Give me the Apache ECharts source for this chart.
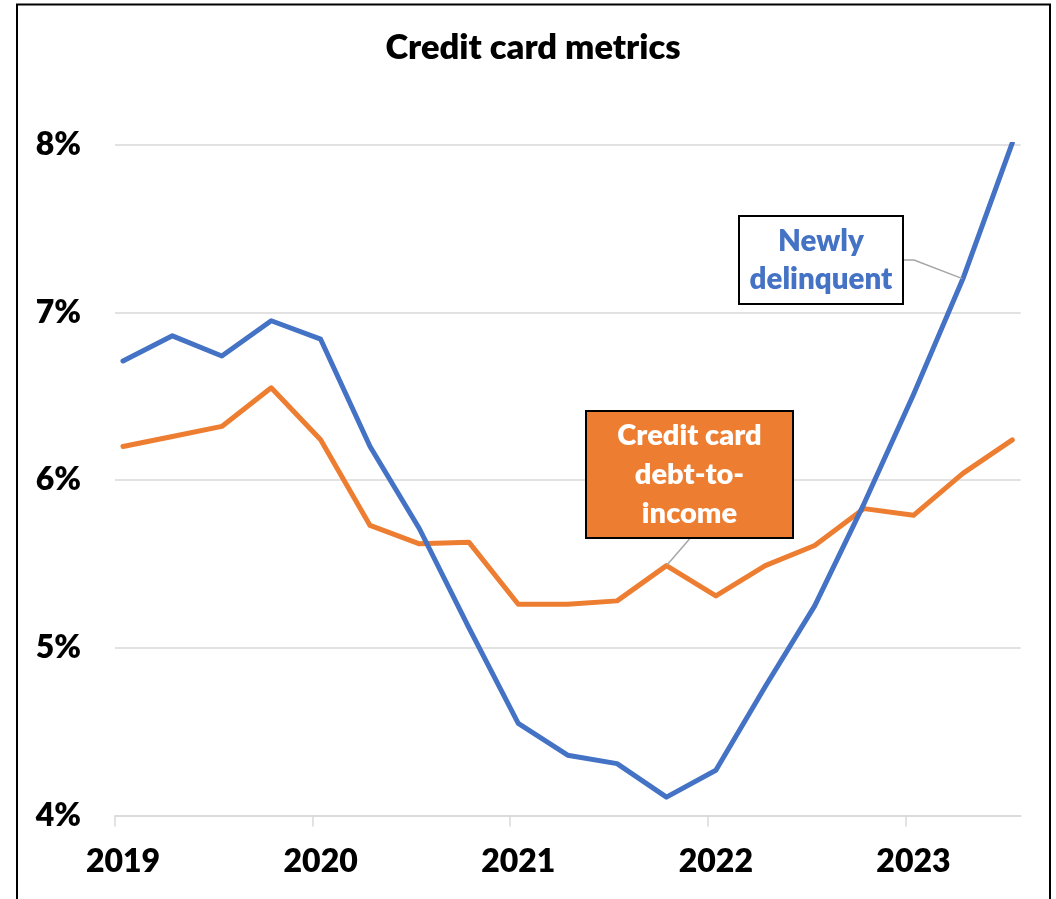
<!DOCTYPE html>
<html>
<head>
<meta charset="utf-8">
<title>Credit card metrics</title>
<script src="https://cdn.jsdelivr.net/npm/echarts@6/dist/echarts.min.js"></script>
<style>
  html, body { margin: 0; padding: 0; background: #ffffff; }
  #chart { width: 1056px; height: 899px; }
</style>
</head>
<body>
<div id="chart"></div>
<script>
// Quarterly observations, 2019 Q1 through 2023 Q3
const quarters = [
  '2019Q1', '2019Q2', '2019Q3', '2019Q4',
  '2020Q1', '2020Q2', '2020Q3', '2020Q4',
  '2021Q1', '2021Q2', '2021Q3', '2021Q4',
  '2022Q1', '2022Q2', '2022Q3', '2022Q4',
  '2023Q1', '2023Q2', '2023Q3'
];

// Share of credit card balances newly delinquent (%)
const newlyDelinquent = [
  6.71, 6.86, 6.74, 6.95,
  6.84, 6.20, 5.71, 5.12,
  4.55, 4.36, 4.31, 4.11,
  4.27, 4.77, 5.25, 5.86,
  6.51, 7.20, 8.01
];

// Credit card debt relative to income (%)
const debtToIncome = [
  6.20, 6.26, 6.32, 6.55,
  6.24, 5.73, 5.62, 5.63,
  5.26, 5.26, 5.28, 5.49,
  5.31, 5.49, 5.61, 5.83,
  5.79, 6.04, 6.24
];

const yearLabels = ['2019', '2020', '2021', '2022', '2023'];
const yTicks = [4, 5, 6, 7, 8];

// Which quarter each callout points at
const delinquentCalloutQuarter = '2023Q2';
const debtCalloutQuarter = '2021Q4';

const FONT = 'Lato, "Open Sans", "Liberation Sans", sans-serif';
const WEIGHT = 800;
const BLUE = '#4472C4';
const ORANGE = '#ED7D31';
const GRID = '#D9D9D9';

// x is the quarter index; the axis starts a little before the first quarter
const xMin = -0.162;
const xMax = 18.17;
const labelPositions = yearLabels.map((_, k) => 4 * k);
const tickPositions = yearLabels.map((_, k) => 4 * k + xMin);

function buildSeriesData(values, calloutQuarter, labelOpts) {
  return values.map((v, i) => {
    const item = { value: [i, v] };
    if (quarters[i] === calloutQuarter) {
      item.label = Object.assign({ show: true }, labelOpts);
    }
    return item;
  });
}

const chart = echarts.init(document.getElementById('chart'), null, { renderer: 'canvas' });

const option = {
  animation: false,
  backgroundColor: '#ffffff',
  textStyle: { fontFamily: FONT },
  title: {
    text: 'Credit card metrics',
    left: 533,
    top: 30,
    padding: 0,
    textAlign: 'center',
    textStyle: { fontFamily: FONT, fontSize: 34.5, fontWeight: WEIGHT, color: '#000000' }
  },
  grid: {
    left: 115,
    right: 35.3,
    top: 144.6,
    bottom: 83.4
  },
  xAxis: {
    type: 'value',
    min: xMin,
    max: xMax,
    axisLine: { show: true, lineStyle: { color: GRID, width: 1.5 } },
    axisTick: {
      show: true,
      length: 11,
      customValues: tickPositions,
      lineStyle: { color: GRID, width: 1.5 }
    },
    axisLabel: {
      customValues: labelPositions,
      formatter: (v) => yearLabels[Math.round(v / 4)],
      margin: 30,
      fontFamily: FONT,
      fontSize: 32,
      fontWeight: WEIGHT,
      color: '#000000'
    },
    splitLine: { show: false }
  },
  yAxis: {
    type: 'value',
    min: yTicks[0],
    max: yTicks[yTicks.length - 1],
    interval: 1,
    axisLine: { show: false },
    axisTick: { show: false },
    axisLabel: {
      formatter: '{value}%',
      margin: 34,
      fontFamily: FONT,
      fontSize: 32,
      fontWeight: WEIGHT,
      color: '#000000'
    },
    splitLine: { show: true, lineStyle: { color: GRID, width: 1.5 } }
  },
  series: [
    {
      name: 'Credit card debt-to-income',
      type: 'line',
      z: 2,
      showSymbol: true,
      showAllSymbol: true,
      symbol: 'circle',
      symbolSize: 1,
      itemStyle: { color: ORANGE },
      lineStyle: { color: ORANGE, width: 5, cap: 'round', join: 'round' },
      emphasis: { disabled: true },
      label: { show: false },
      labelLayout: { x: 689.5, y: 474.5, align: 'center', verticalAlign: 'middle' },
      labelLine: { show: true, length2: 0, lineStyle: { color: '#A6A6A6', width: 1.5 } },
      data: buildSeriesData(debtToIncome, debtCalloutQuarter, {
        formatter: 'Credit card\ndebt-to-\nincome',
        color: '#ffffff',
        fontFamily: FONT,
        fontSize: 29,
        fontWeight: WEIGHT,
        lineHeight: 39,
        align: 'center',
        width: 195,
        padding: [4, 5],
        backgroundColor: ORANGE,
        borderColor: '#000000',
        borderWidth: 2
      })
    },
    {
      name: 'Newly delinquent',
      type: 'line',
      z: 3,
      showSymbol: true,
      showAllSymbol: true,
      symbol: 'circle',
      symbolSize: 1,
      itemStyle: { color: BLUE },
      lineStyle: { color: BLUE, width: 5, cap: 'round', join: 'round' },
      emphasis: { disabled: true },
      label: { show: false },
      labelLayout: { x: 821, y: 260, align: 'center', verticalAlign: 'middle' },
      labelLine: { show: true, length2: 10, lineStyle: { color: '#A6A6A6', width: 1.5 } },
      data: buildSeriesData(newlyDelinquent, delinquentCalloutQuarter, {
        formatter: 'Newly\ndelinquent',
        color: BLUE,
        fontFamily: FONT,
        fontSize: 29.5,
        fontWeight: WEIGHT,
        lineHeight: 38,
        align: 'center',
        width: 152,
        padding: [5, 5],
        backgroundColor: '#ffffff',
        borderColor: '#000000',
        borderWidth: 2
      })
    }
  ],
  graphic: [
    {
      type: 'rect',
      z: 100,
      silent: true,
      shape: { x: 17, y: 4.5, width: 1033, height: 920 },
      style: { fill: 'none', stroke: '#000000', lineWidth: 2 }
    }
  ]
};

chart.setOption(option);
</script>
</body>
</html>
